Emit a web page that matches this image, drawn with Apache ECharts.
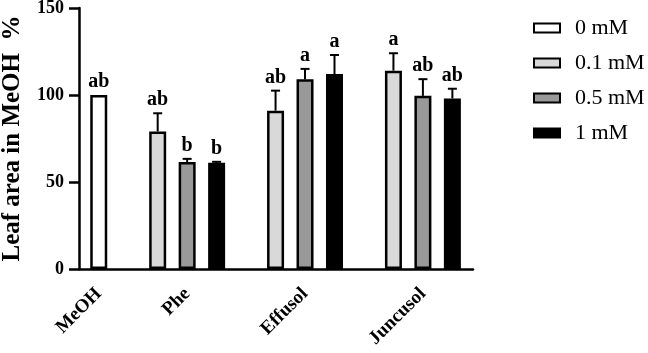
<!DOCTYPE html>
<html>
<head>
<meta charset="utf-8">
<script src="https://cdn.jsdelivr.net/npm/echarts@6/dist/echarts.min.js"></script>
<style>
  html, body { margin: 0; padding: 0; background: #fff; }
  #chart { width: 648px; height: 353px; }
</style>
</head>
<body>
<div id="chart"></div>
<script>
const groups = ['MeOH', 'Phe', 'Effusol', 'Juncusol']
const doses = ['0 mM', '0.1 mM', '0.5 mM', '1 mM']

// mean leaf area (% of MeOH) per group, for each dose
const mean0 = [100, null, null, null]
const mean01 = [null, 79, 91, 114]
const mean05 = [null, 61.5, 109, 99.5]
const mean1 = [null, 61, 112, 98]

// upper error (SD) per group
const err0 = [0, null, null, null]
const err01 = [null, 10.5, 11.5, 10]
const err05 = [null, 1.8, 6, 9.6]
const err1 = [null, 0.6, 11, 5.6]

// significance letters
const let0 = ['ab', null, null, null]
const let01 = [null, 'ab', 'ab', 'a']
const let05 = [null, 'b', 'a', 'ab']
const let1 = [null, 'b', 'a', 'ab']

const yTicks = [0, 50, 100, 150]

const means = [mean0, mean01, mean05, mean1]
const errs = [err0, err01, err05, err1]
const letters = [let0, let01, let05, let1]
const fills = ['#ffffff', '#d9d9d9', '#999999', '#000000']

// slot of each group centre on the x axis, and the dose offset inside a group
const groupCenter = [0, 3, 7, 11]
const doseOffset = [0, -1, 0, 1]
const serif = 'Liberation Serif'

const barSeries = doses.map((d, k) => ({
  name: d,
  type: 'bar',
  barWidth: 17,
  barGap: '-100%',
  itemStyle: { color: fills[k], borderColor: '#000', borderWidth: 2.5 },
  data: groups.map((g, i) => means[k][i] == null ? null : [groupCenter[i] + doseOffset[k], means[k][i]])
    .filter(p => p)
}))

const errData = []
doses.forEach((d, k) => {
  groups.forEach((g, i) => {
    if (means[k][i] == null) return
    errData.push([groupCenter[i] + doseOffset[k], means[k][i], errs[k][i], letters[k][i]])
  })
})

const errSeries = {
  type: 'custom',
  silent: true,
  z: 5,
  data: errData,
  renderItem: function (params, api) {
    const x = api.value(0), m = api.value(1), e = api.value(2)
    const base = api.coord([x, m])
    const top = api.coord([x, m + e])
    const children = []
    if (e > 0) {
      children.push({
        type: 'line',
        shape: { x1: base[0], y1: base[1], x2: top[0], y2: top[1] },
        style: { stroke: '#000', lineWidth: 2 }
      })
      children.push({
        type: 'line',
        shape: { x1: top[0] - 4.5, y1: top[1], x2: top[0] + 4.5, y2: top[1] },
        style: { stroke: '#000', lineWidth: 2 }
      })
    }
    children.push({
      type: 'text',
      x: top[0],
      y: top[1] - 3,
      style: {
        text: errData[params.dataIndex][3],
        fill: '#000',
        font: 'bold 20px ' + serif,
        align: 'center',
        verticalAlign: 'bottom'
      }
    })
    return { type: 'group', children: children }
  }
}

const option = {
  animation: false,
  backgroundColor: '#fff',
  grid: { left: 79, right: 175, top: 8, bottom: 84, outerBoundsMode: 'none', containLabel: false },
  legend: {
    data: doses,
    orient: 'vertical',
    left: 528,
    top: 12,
    icon: 'rect',
    itemWidth: 26,
    itemHeight: 9,
    itemGap: 13,
    textStyle: { color: '#000', fontFamily: serif, fontSize: 22, padding: [0, 0, 0, 10] }
  },
  xAxis: {
    type: 'value',
    min: -0.67,
    max: 12.7,
    splitLine: { show: false },
    axisTick: { show: false },
    axisLine: { lineStyle: { color: '#000', width: 2.5 } },
    axisLabel: {
      customValues: groupCenter,
      formatter: v => groups[groupCenter.indexOf(v)] || '',
      rotate: 45,
      margin: 22,
      color: '#000',
      fontFamily: serif,
      fontWeight: 'bold',
      fontSize: 19
    }
  },
  yAxis: {
    type: 'value',
    min: yTicks[0],
    max: yTicks[yTicks.length - 1],
    interval: 50,
    name: 'Leaf area in MeOH  %',
    nameLocation: 'middle',
    nameRotate: 90,
    nameGap: 54,
    nameTextStyle: { color: '#000', fontFamily: serif, fontWeight: 'bold', fontSize: 25 },
    splitLine: { show: false },
    axisLine: { show: true, onZero: false, lineStyle: { color: '#000', width: 2.5 } },
    axisTick: { show: true, length: 10, lineStyle: { color: '#000', width: 2.5 } },
    axisLabel: { color: '#000', fontFamily: serif, fontWeight: 'bold', fontSize: 18, margin: 15 }
  },
  series: [...barSeries, errSeries]
}

const chart = echarts.init(document.getElementById('chart'))
chart.setOption(option)
</script>
</body>
</html>
